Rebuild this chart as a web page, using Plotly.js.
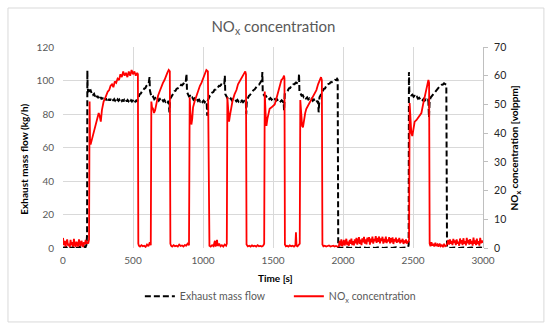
<!DOCTYPE html>
<html>
<head>
<meta charset="utf-8">
<script src="https://cdn.plot.ly/plotly-3.0.1.min.js"></script>
<style>html,body{margin:0;padding:0;background:#fff;}#chart{width:550px;height:330px;}</style>
</head>
<body>
<div id="chart"></div>
<script>
// Exhaust mass flow [kg/h] as [time s, value]
const flowPoints = [
[0,0.5],[10,0],[20,0.8],[30,0],[40,1],[50,0.3],[60,0],[70,0.6],[80,0],[90,1.2],[100,0.2],[110,0],[120,0.8],[130,0],[140,0.5],[150,1],[160,0.3],[168,2],[172,8],
[174,106],[176,96],[180,93],[186,95.5],[192,93.5],[198,94],[204,92.5],[210,93],[216,91.5],[222,92],[228,90.5],[234,91.5],[240,90],[246,90.8],[252,89.5],[258,90.5],[264,89.2],[270,90],[276,88.8],[282,89.7],[288,88.6],[294,89.5],[300,88.4],[306,89.3],[312,88.2],[318,89.2],[324,88.1],[330,89],[336,88],[342,89],[348,88.2],[354,88.9],[360,87.9],[366,88.8],[372,88],[378,88.9],[384,87.8],[390,88.7],[396,87.9],[402,88.6],[408,87.6],[414,88.5],[420,87.8],[426,88.6],[432,87.5],[438,88.4],[444,87.7],[450,88.5],[456,87.4],[462,88.3],[468,87.6],[474,88.4],[480,87.3],[486,88.2],[492,87.5],[498,88.3],[504,87.2],[510,88.2],[516,87.4],[522,88],[528,87.3],[534,88.5],
[540,90.5],[548,91.8],[556,92.2],[564,93.5],[572,93.8],[580,95.2],[588,95.4],[596,96.8],[604,97],[612,98.3],[618,102],[621,94],
[628,91.5],[636,89.8],[644,90.4],[652,88.8],[660,89.5],[668,88.3],[676,89.1],[684,88],[692,88.9],[700,87.8],[708,88.7],[716,87.6],[724,88.4],[732,87.3],[740,88.1],[748,87],[755,87.8],[760,81],[765,89],
[772,90.3],[780,91.8],[788,92.2],[796,93.6],[804,93.9],[812,95.2],[820,95.3],[828,96.5],[836,96.4],[844,97.5],[852,97.2],[860,98.2],[868,97.8],[876,98.5],[882,104],[886,93],
[892,92.2],[900,90.5],[908,90.8],[916,89.2],[924,89.8],[932,88.5],[940,89.3],[948,88.1],[956,88.9],[964,87.8],[972,88.6],[980,87.5],[988,88.3],[996,87.2],[1004,88],[1012,87],[1020,87.8],[1026,87],[1030,79],[1034,88],
[1042,89.5],[1050,91],[1058,91.4],[1066,92.8],[1074,93.1],[1082,94.4],[1090,94.6],[1098,95.7],[1106,95.8],[1114,96.8],[1122,96.7],[1130,97.6],[1138,97.4],[1146,98.2],[1152,97.8],[1156,103],[1159,92],
[1166,90.8],[1174,89.5],[1182,89.9],[1190,88.6],[1198,89.3],[1206,88.2],[1214,88.9],[1222,87.9],[1230,88.6],[1238,87.6],[1246,88.4],[1254,87.4],[1262,88.2],[1270,87.3],[1278,88],[1286,87.1],[1294,87.8],[1302,87],[1306,87.5],[1309,80],[1313,88],
[1320,89.8],[1328,90.8],[1336,91.4],[1344,92.6],[1352,93],[1360,94.2],[1368,94.6],[1376,95.8],[1384,96.1],[1392,97.3],[1400,97.5],[1408,98.7],[1416,99],[1421,100.3],[1424,105],[1427,92],
[1434,91.5],[1442,90.4],[1450,90.7],[1458,89.5],[1466,90],[1474,88.9],[1482,89.5],[1490,88.5],[1498,89.2],[1506,88.2],[1514,88.9],[1522,87.9],[1530,88.6],[1538,87.7],[1546,88.4],[1554,87.5],[1562,88.2],[1570,87.3],[1576,87.8],[1579,82],[1584,92],
[1590,92.5],[1598,93.8],[1606,94],[1614,95.3],[1622,95.5],[1630,96.6],[1638,96.7],[1646,97.8],[1654,97.8],[1662,98.7],[1670,98.5],[1678,99.3],[1683,99],[1686,104],[1689,93],
[1696,92.4],[1704,91],[1712,91.3],[1720,90],[1728,90.5],[1736,89.3],[1744,89.9],[1752,88.7],[1760,89.3],[1768,88.3],[1776,89],[1784,87.9],[1792,88.7],[1800,87.6],[1808,88.4],[1816,87.3],[1822,87.8],[1826,81],[1832,90],
[1840,91.5],[1848,93],[1856,93.5],[1864,95],[1872,95.3],[1880,96.7],[1888,96.9],[1896,98],[1904,98.1],[1912,99],[1920,99],[1928,99.8],[1936,99.7],[1944,100.4],[1952,100.2],[1958,101],[1962,100.6],[1966,0.5],
[1990,0],[2020,0.5],[2050,0],[2080,0.3],[2110,0],[2140,0.5],[2170,0],[2200,0.3],[2230,0],[2260,0.5],[2290,0],[2320,0.3],[2350,0],[2380,0.5],[2410,0],[2440,0.3],[2465,0.5],[2469,2],
[2471,105],[2474,93],[2480,92.5],[2488,91.2],[2496,91.6],[2504,90.3],[2512,90.8],[2520,89.6],[2528,90.2],[2536,89.1],[2544,89.7],[2552,88.7],[2560,89.3],[2568,88.3],[2576,89],[2584,88],[2592,88.7],[2600,87.8],[2606,88.4],[2610,87.5],[2614,78],[2619,88],
[2626,89.8],[2634,90.6],[2642,91.8],[2650,92.4],[2658,93.6],[2666,94.1],[2674,95.2],[2682,95.5],[2690,96.5],[2698,96.7],[2706,97.5],[2714,97.6],[2722,98.3],[2730,97.9],[2738,97.5],[2743,0.5],
[2770,0],[2800,0.3],[2830,0],[2860,0.3],[2890,0],[2920,0.3],[2950,0],[2980,0.3],[3000,0]
];

// NOx concentration [volppm] as [time s, value]
const noxPoints = [
[0,3.5],[6,1],[12,2.5],[18,0.5],[24,2],[30,3],[36,0.8],[42,1.5],[48,0.3],[54,2.8],[60,1],[66,2],[72,0.5],[78,3.2],[84,1.2],[90,0.4],[96,2.2],[102,1],[108,0.5],[114,3],[120,1.5],[126,0.6],[132,2.5],[138,1],[144,0.3],[150,2],[156,1.2],[162,2.8],[168,1.5],[174,2.2],[180,1.5],[186,3],
[190,51],[193,38],[197,36],[205,37.5],[215,39],[225,41],[235,43.5],[245,45],[255,47],[262,46],[270,44],[278,48],[290,51],[300,52],[310,53.5],[320,54.5],[330,55],[340,56.5],[350,57],[360,56],[370,58],[380,57.5],[390,59],[400,58.5],[410,60.5],[420,59.5],[430,61.5],[440,60],[450,61],[460,59.5],[470,61.5],[480,60],[490,62],[500,60.5],[510,61.5],[520,60],[530,61],[535,60.5],
[538,1.5],[542,0.8],[550,0.5],[560,1],[570,0.6],[580,0.8],[590,0.4],[600,1.2],[610,0.6],[620,2],[627,1],
[631,51],[636,49],[643,48.5],[650,47],[658,48],[668,51],[679,53],[690,54.5],[700,56],[714,57.5],[725,58.5],[735,60],[745,61],[755,62],[763,61.5],
[767,1.5],[772,0.8],[780,0.5],[790,1],[800,0.6],[810,0.8],[820,0.5],[830,1.2],[840,0.7],[850,0.9],[860,0.5],[870,1],[880,0.8],[890,1.5],[900,1],
[905,52.5],[910,47],[917,43],[923,45],[929,49],[940,51],[953,53],[965,55],[978,56.5],[989,57.5],[1000,59],[1012,60.5],[1024,62],[1035,61.5],
[1041,1.5],[1046,0.8],[1055,0.5],[1065,1],[1075,0.6],[1085,2.5],[1090,0.5],[1100,2.8],[1105,0.7],[1115,1.5],[1125,0.6],[1135,1],[1145,0.5],[1155,1.2],[1165,0.8],[1170,1.5],
[1174,52.5],[1180,48],[1186,44],[1192,46],[1199,48],[1210,51],[1225,53.5],[1239,55],[1250,57],[1262,58],[1274,59.5],[1290,60.5],[1302,61.5],[1307,60.5],
[1311,1.2],[1320,0.6],[1330,0.8],[1340,0.5],[1350,0.9],[1360,0.6],[1370,0.8],[1380,0.5],[1390,1],[1400,0.6],[1410,0.7],[1420,0.5],[1430,0.8],[1437,1.5],
[1441,54.5],[1447,47],[1453,42.5],[1460,45],[1468,47.5],[1476,48.5],[1490,49],[1500,49.5],[1512,50],[1524,52],[1536,54],[1548,56.5],[1560,58.5],[1570,59],[1579,60],[1582,59],
[1585,1.2],[1592,0.6],[1600,0.8],[1610,0.5],[1620,0.9],[1630,0.6],[1640,0.8],[1650,0.5],[1660,1],[1664,5.5],[1668,0.8],[1675,0.6],[1685,1],[1691,1.5],
[1695,51.5],[1702,46],[1708,42.5],[1714,42],[1722,45],[1730,47],[1738,48.5],[1750,49.5],[1762,50.5],[1774,51.5],[1786,53],[1798,54],[1810,55],[1822,57],[1834,58.5],[1843,59.5],[1849,58.5],
[1853,1.2],[1860,0.6],[1870,0.8],[1880,0.5],[1890,0.7],[1900,0.9],[1910,0.5],[1920,0.6],[1930,0.8],[1940,0.5],[1950,0.7],[1960,0.5],[1970,0.6],[1976,2.5],[1982,0.8],[1988,3],[1994,0.6],
[2000,1.5],[2006,2.8],[2012,0.9],[2018,2],[2024,3.2],[2030,1],[2036,2.2],[2042,0.8],[2048,2.8],[2054,1.5],[2060,3.3],[2066,1],[2072,2.4],[2078,0.9],[2084,3],[2090,1.6],[2096,3.5],
[2102,1.2],[2108,2.6],[2114,3.8],[2120,1.4],[2126,2.9],[2132,1],[2138,3.4],[2144,2],[2150,3.9],[2156,1.5],[2162,3],[2168,1.3],[2174,3.6],[2180,2.2],[2186,3.8],[2192,1.2],[2198,3.3],
[2204,2],[2210,4],[2216,1.5],[2222,3.2],[2228,2.4],[2234,4.1],[2240,1.8],[2246,3.5],[2252,2.2],[2258,4],[2264,1.6],[2270,3.3],[2276,2.5],[2282,3.9],[2288,1.5],[2294,3.2],
[2300,2],[2306,4],[2312,1.7],[2318,3],[2324,2.3],[2330,3.8],[2336,1.6],[2342,3.4],[2348,2],[2354,3.7],[2360,1.4],[2366,3.1],[2372,2.3],[2378,3.6],[2384,1.8],[2390,3],[2396,2.1],
[2402,3.5],[2408,1.6],[2414,2.8],[2420,2],[2426,3.2],[2432,1.4],[2438,2.6],[2444,1.8],[2450,3],[2456,1.5],[2462,2.4],[2468,2],[2472,3],
[2476,50.5],[2482,45],[2488,40],[2495,39],[2503,42],[2512,44],[2524,44.5],[2536,45.5],[2548,46],[2560,47],[2572,50],[2584,53],[2595,56],[2603,58],[2610,58.5],[2615,57.5],
[2619,1.5],[2625,0.6],[2632,2],[2638,0.8],[2645,1.5],[2652,0.5],[2660,1.8],[2667,0.7],[2675,1.2],[2682,0.5],[2690,1.5],[2698,0.6],[2706,1],[2714,0.5],[2722,1.2],[2730,0.6],[2738,0.9],
[2745,1.5],[2752,2.8],[2758,1.2],[2764,3],[2770,1.5],[2776,2.5],[2782,1],[2788,3.2],[2794,1.8],[2800,2.6],[2806,1],[2812,3],[2818,1.5],[2824,2.2],[2830,0.8],[2836,3.3],[2842,1.6],
[2848,2.7],[2854,1],[2860,3.4],[2866,1.5],[2872,2.4],[2878,0.9],[2884,3.5],[2890,1.6],[2896,2.8],[2902,1.2],[2908,3.1],[2914,1.5],[2920,2.5],[2926,0.8],[2932,3.6],[2938,1.5],
[2944,2.6],[2950,1],[2956,3.3],[2962,1.4],[2968,2.4],[2974,0.8],[2980,3.5],[2986,1.7],[2992,2.6],[3000,1.8]
];

const xTicks = [0, 500, 1000, 1500, 2000, 2500, 3000];
const yLeftTicks = [0, 20, 40, 60, 80, 100, 120];
const yRightTicks = [0, 10, 20, 30, 40, 50, 60, 70];

const FONT = 'Lato, "Open Sans", sans-serif';

const traces = [
  {
    x: flowPoints.map(p => p[0]), y: flowPoints.map(p => p[1]),
    type: 'scatter', mode: 'lines', name: 'Exhaust mass flow',
    line: {color: '#000000', width: 2, dash: '6px,3px'},
    xaxis: 'x', yaxis: 'y'
  },
  {
    x: noxPoints.map(p => p[0]), y: noxPoints.map(p => p[1]),
    type: 'scatter', mode: 'lines', name: 'NO<sub>x</sub> concentration',
    line: {color: '#ff0000', width: 1.8},
    xaxis: 'x', yaxis: 'y2'
  }
];

const layout = {
  width: 550, height: 330,
  paper_bgcolor: '#ffffff', plot_bgcolor: '#ffffff',
  margin: {l: 63, r: 67, t: 47, b: 82, pad: 0},
  font: {family: FONT, size: 10, color: '#595959'},
  showlegend: true,
  title: {
    text: 'NO<sub>x</sub> concentration',
    x: 0.497, xanchor: 'center', y: 0.918, yanchor: 'middle',
    font: {family: FONT, size: 15, color: '#595959'}
  },
  xaxis: {
    range: [0, 3000], tickvals: xTicks, ticktext: xTicks.map(String),
    showgrid: true, gridcolor: '#d9d9d9', gridwidth: 1,
    zeroline: false, showline: false, ticks: '',
    tickfont: {family: FONT, size: 10, color: '#595959'},
    ticklabelstandoff: 5
  },
  yaxis: {
    range: [0, 120], tickvals: yLeftTicks, ticktext: yLeftTicks.map(String),
    showgrid: true, gridcolor: '#d9d9d9', gridwidth: 1,
    zeroline: false, showline: false, ticks: '',
    tickfont: {family: FONT, size: 10, color: '#595959'},
    ticklabelstandoff: 8
  },
  yaxis2: {
    overlaying: 'y', side: 'right', anchor: 'x',
    range: [0, 70], tickvals: yRightTicks, ticktext: yRightTicks.map(String),
    showgrid: false, zeroline: false,
    showline: true, linecolor: '#bfbfbf', linewidth: 1,
    ticks: 'outside', ticklen: 4, tickcolor: '#bfbfbf', tickwidth: 1,
    tickfont: {family: FONT, size: 10.5, color: '#262626'},
    ticklabelstandoff: 4
  },
  legend: {
    orientation: 'h', x: 0.183, xanchor: 'left', y: -0.24, yanchor: 'middle',
    font: {family: FONT, size: 10.5, color: '#595959'},
    itemwidth: 30, bgcolor: 'rgba(0,0,0,0)',
    entrywidth: 104, entrywidthmode: 'pixels'
  },
  annotations: [
    {text: '<b>Exhaust mass flow (kg/h)</b>', xref: 'paper', yref: 'paper',
     x: -0.095, y: 0.44, xanchor: 'center', yanchor: 'middle', textangle: -90,
     showarrow: false, font: {family: FONT, size: 10, color: '#000000'}},
    {text: '<b>NO<sub>x</sub> concentration [volppm]</b>', xref: 'paper', yref: 'paper',
     x: 1.076, y: 0.5, xanchor: 'center', yanchor: 'middle', textangle: -90,
     showarrow: false, font: {family: FONT, size: 10, color: '#000000'}},
    {text: '<b>Time [s]</b>', xref: 'paper', yref: 'paper',
     x: 0.505, y: -0.149, xanchor: 'center', yanchor: 'middle',
     showarrow: false, font: {family: FONT, size: 10, color: '#000000'}}
  ],
  shapes: [
    {type: 'rect', xref: 'paper', yref: 'paper',
     x0: -0.131, x1: 1.145, y0: -0.368, y1: 1.194,
     line: {color: '#d9d9d9', width: 1}, layer: 'below'}
  ]
};

Plotly.newPlot('chart', traces, layout, {displayModeBar: false, staticPlot: true});
</script>
</body>
</html>
